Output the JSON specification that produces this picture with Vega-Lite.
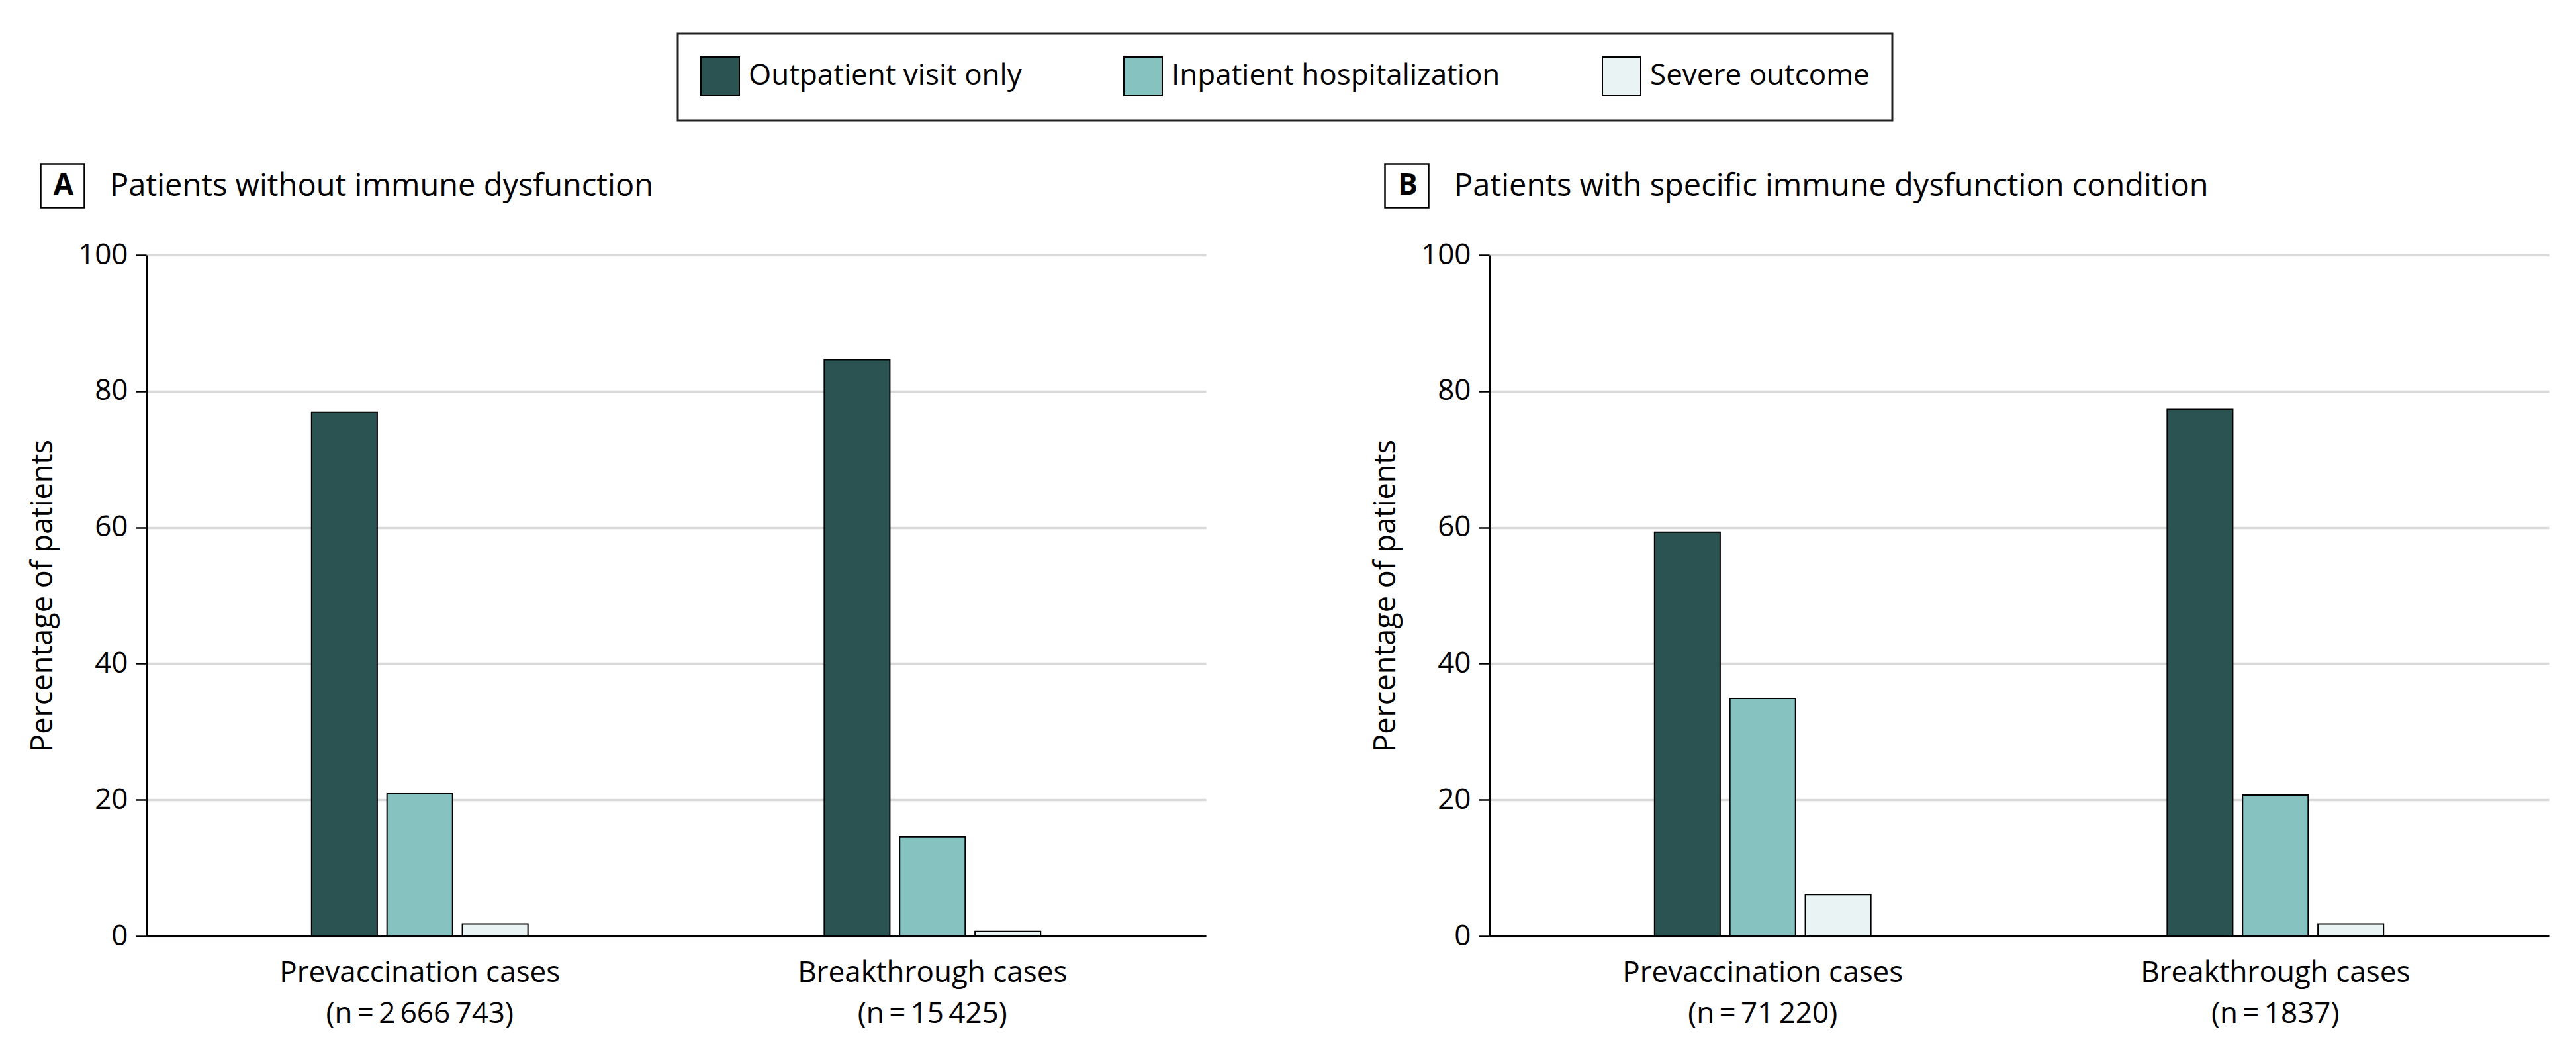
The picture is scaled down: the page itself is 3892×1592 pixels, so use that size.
{
  "$schema": "https://vega.github.io/schema/vega-lite/v6.json",
  "background": "white",
  "padding": {"left": 42, "top": 49, "right": 37, "bottom": 20},
  "config": {
    "font": "Open Sans",
    "view": {"stroke": null},
    "axis": {"labelColor": "black", "titleColor": "black"}
  },
  "data": {
    "values": [
      {"panel": "A", "group": "Prevaccination cases|(n\u2009=\u20092\u2009666\u2009743)", "outcome": "Outpatient visit only", "pct": 76.9},
      {"panel": "A", "group": "Prevaccination cases|(n\u2009=\u20092\u2009666\u2009743)", "outcome": "Inpatient hospitalization", "pct": 20.9},
      {"panel": "A", "group": "Prevaccination cases|(n\u2009=\u20092\u2009666\u2009743)", "outcome": "Severe outcome", "pct": 1.8},
      {"panel": "A", "group": "Breakthrough cases|(n\u2009=\u200915\u2009425)", "outcome": "Outpatient visit only", "pct": 84.6},
      {"panel": "A", "group": "Breakthrough cases|(n\u2009=\u200915\u2009425)", "outcome": "Inpatient hospitalization", "pct": 14.6},
      {"panel": "A", "group": "Breakthrough cases|(n\u2009=\u200915\u2009425)", "outcome": "Severe outcome", "pct": 0.7},
      {"panel": "B", "group": "Prevaccination cases|(n\u2009=\u200971\u2009220)", "outcome": "Outpatient visit only", "pct": 59.3},
      {"panel": "B", "group": "Prevaccination cases|(n\u2009=\u200971\u2009220)", "outcome": "Inpatient hospitalization", "pct": 34.9},
      {"panel": "B", "group": "Prevaccination cases|(n\u2009=\u200971\u2009220)", "outcome": "Severe outcome", "pct": 6.1},
      {"panel": "B", "group": "Breakthrough cases|(n\u2009=\u20091837)", "outcome": "Outpatient visit only", "pct": 77.3},
      {"panel": "B", "group": "Breakthrough cases|(n\u2009=\u20091837)", "outcome": "Inpatient hospitalization", "pct": 20.7},
      {"panel": "B", "group": "Breakthrough cases|(n\u2009=\u20091837)", "outcome": "Severe outcome", "pct": 1.8}
    ]
  },
  "resolve": {"scale": {"color": "shared", "shape": "independent"}, "legend": {"color": "shared", "shape": "independent"}},
  "spacing": 249,
  "hconcat": [
    {
      "transform": [{"filter": "datum.panel === 'A'"}],
      "width": 1601,
      "height": 1029,
      "layer": [
        {
          "mark": {"type": "bar", "stroke": "black", "strokeWidth": 2},
          "encoding": {
            "x": {"field": "group", "type": "nominal", "sort": null,
              "scale": {"paddingInner": 0.578, "paddingOuter": 0.3225},
              "axis": {"title": null, "labelAngle": 0, "labelExpr": "split(datum.label, '|')", "labelFontSize": 44, "labelLineHeight": 62, "labelPadding": 33, "labelBaseline": "top", "labelLimit": 1000, "ticks": false, "domainColor": "black", "domainWidth": 3}},
            "xOffset": {"field": "outcome", "type": "nominal", "sort": ["Outpatient visit only", "Inpatient hospitalization", "Severe outcome"],
              "scale": {"paddingInner": 0.13, "paddingOuter": 0}},
            "y": {"field": "pct", "type": "quantitative", "scale": {"domain": [0, 100]},
              "axis": {"title": "Percentage of patients", "titleFontSize": 45, "titleFontWeight": "normal", "titlePadding": 30, "values": [0, 20, 40, 60, 80, 100], "labelFontSize": 44, "labelPadding": 12, "tickSize": 16, "tickWidth": 2.5, "tickColor": "black", "domainColor": "black", "domainWidth": 3, "grid": true, "gridColor": "#d9d9d9", "gridWidth": 3.5}},
            "color": {"field": "outcome", "type": "nominal",
              "scale": {"domain": ["Outpatient visit only", "Inpatient hospitalization", "Severe outcome"], "range": ["#2a5352", "#85c2c0", "#eaf3f3"]},
              "legend": {"title": null, "orient": "none", "legendX": 803, "legendY": -334, "direction": "horizontal", "columns": 3, "symbolType": "square", "symbolSize": 3364, "symbolStrokeColor": "black", "symbolStrokeWidth": 2, "symbolOpacity": 1, "labelFontSize": 44, "labelOffset": 13, "columnPadding": 150, "padding": 34, "strokeColor": "#222222", "fillColor": "white", "labelLimit": 1000, "labelColor": "black",
                "encode": {"legend": {"update": {"strokeWidth": {"value": 3}}}}}}
          }
        },
        {
          "mark": {"type": "point", "opacity": 0, "color": "black", "filled": false, "strokeWidth": 2.5},
          "encoding": {
            "shape": {"datum": "A", "type": "nominal", "scale": {"range": ["square"]},
              "legend": {"title": "Patients without immune dysfunction", "titleOrient": "right", "titleAnchor": "middle", "titleBaseline": "middle", "titlePadding": 33, "titleFontSize": 47, "titleFontWeight": "normal", "titleColor": "black", "titleLimit": 3000,
                "orient": "none", "legendX": -161, "legendY": -139, "padding": 0, "symbolSize": 4356, "symbolStrokeColor": "black", "symbolStrokeWidth": 2.5, "symbolOpacity": 1, "labelAlign": "center", "labelBaseline": "middle", "labelOffset": -33, "labelFontSize": 44, "labelFontWeight": "bold", "labelColor": "black"}}
          }
        }
      ]
    },
    {
      "transform": [{"filter": "datum.panel === 'B'"}],
      "width": 1601,
      "height": 1029,
      "layer": [
        {
          "mark": {"type": "bar", "stroke": "black", "strokeWidth": 2},
          "encoding": {
            "x": {"field": "group", "type": "nominal", "sort": null,
              "scale": {"paddingInner": 0.578, "paddingOuter": 0.3225},
              "axis": {"title": null, "labelAngle": 0, "labelExpr": "split(datum.label, '|')", "labelFontSize": 44, "labelLineHeight": 62, "labelPadding": 33, "labelBaseline": "top", "labelLimit": 1000, "ticks": false, "domainColor": "black", "domainWidth": 3}},
            "xOffset": {"field": "outcome", "type": "nominal", "sort": ["Outpatient visit only", "Inpatient hospitalization", "Severe outcome"],
              "scale": {"paddingInner": 0.13, "paddingOuter": 0}},
            "y": {"field": "pct", "type": "quantitative", "scale": {"domain": [0, 100]},
              "axis": {"title": "Percentage of patients", "titleFontSize": 45, "titleFontWeight": "normal", "titlePadding": 30, "values": [0, 20, 40, 60, 80, 100], "labelFontSize": 44, "labelPadding": 12, "tickSize": 16, "tickWidth": 2.5, "tickColor": "black", "domainColor": "black", "domainWidth": 3, "grid": true, "gridColor": "#d9d9d9", "gridWidth": 3.5}},
            "color": {"field": "outcome", "type": "nominal",
              "scale": {"domain": ["Outpatient visit only", "Inpatient hospitalization", "Severe outcome"], "range": ["#2a5352", "#85c2c0", "#eaf3f3"]},
              "legend": {"title": null, "orient": "none", "legendX": 803, "legendY": -334, "direction": "horizontal", "columns": 3, "symbolType": "square", "symbolSize": 3364, "symbolStrokeColor": "black", "symbolStrokeWidth": 2, "symbolOpacity": 1, "labelFontSize": 44, "labelOffset": 13, "columnPadding": 150, "padding": 34, "strokeColor": "#222222", "fillColor": "white", "labelLimit": 1000, "labelColor": "black",
                "encode": {"legend": {"update": {"strokeWidth": {"value": 3}}}}}}
          }
        },
        {
          "mark": {"type": "point", "opacity": 0, "color": "black", "filled": false, "strokeWidth": 2.5},
          "encoding": {
            "shape": {"datum": "B", "type": "nominal", "scale": {"range": ["square"]},
              "legend": {"title": "Patients with specific immune dysfunction condition", "titleOrient": "right", "titleAnchor": "middle", "titleBaseline": "middle", "titlePadding": 33, "titleFontSize": 47, "titleFontWeight": "normal", "titleColor": "black", "titleLimit": 3000,
                "orient": "none", "legendX": -159, "legendY": -139, "padding": 0, "symbolSize": 4356, "symbolStrokeColor": "black", "symbolStrokeWidth": 2.5, "symbolOpacity": 1, "labelAlign": "center", "labelBaseline": "middle", "labelOffset": -33, "labelFontSize": 44, "labelFontWeight": "bold", "labelColor": "black"}}
          }
        }
      ]
    }
  ]
}
